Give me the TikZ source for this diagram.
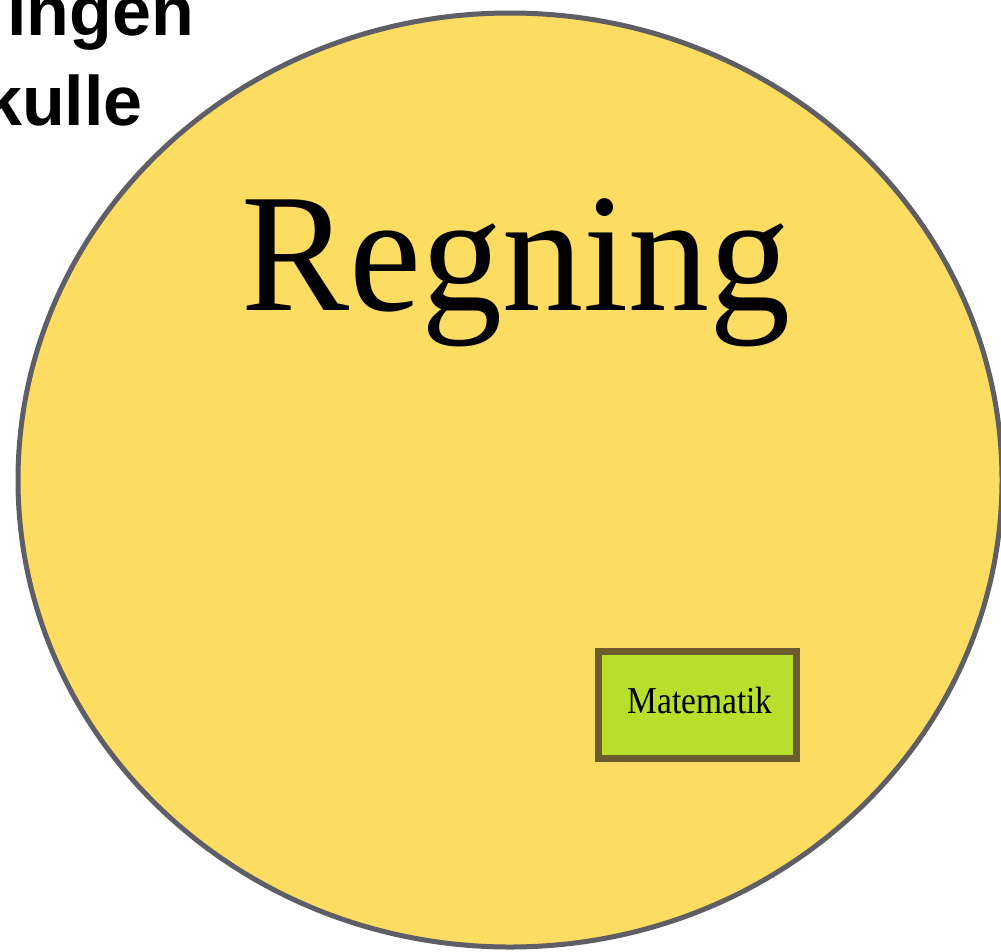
\documentclass[tikz,border=0pt]{standalone}
\usepackage{fontspec}
\setmainfont{Liberation Serif}
\newfontfamily\arialfont{Liberation Sans}
\definecolor{circfill}{HTML}{FDDC62}
\definecolor{circline}{HTML}{5E5E66}
\definecolor{boxfill}{HTML}{B6E02C}
\definecolor{boxline}{HTML}{6B5B2D}
\tikzset{
  bigcircle/.style={fill=circfill, draw=circline, line width=5pt},
  mathbox/.style={fill=boxfill, draw=boxline, line width=7pt, minimum width=198pt, minimum height=107pt, inner sep=0pt},
  headtext/.style={inner sep=0pt, anchor=base east, font=\arialfont\bfseries\fontsize{70}{70}\selectfont},
}
\begin{document}
\begin{tikzpicture}[x=1pt,y=-1pt]
\useasboundingbox (0,0) rectangle (1001,951);
\draw[bigcircle] (510,480) ellipse [x radius=492, y radius=467];
\node[headtext] (l1) at (194,35) {ingen};
\node[headtext] (l2) at (143,125) {kulle};
\node[inner sep=0pt, anchor=base, xscale=0.96, font=\fontsize{169}{169}\selectfont] (reg) at (516,310) {Regning};
\node[mathbox] (box) at (697.5,705) {};
\node[inner sep=0pt, anchor=base, xscale=0.88, font=\fontsize{38}{38}\selectfont] (mat) at (700,713) {Matematik};
\end{tikzpicture}
\end{document}
